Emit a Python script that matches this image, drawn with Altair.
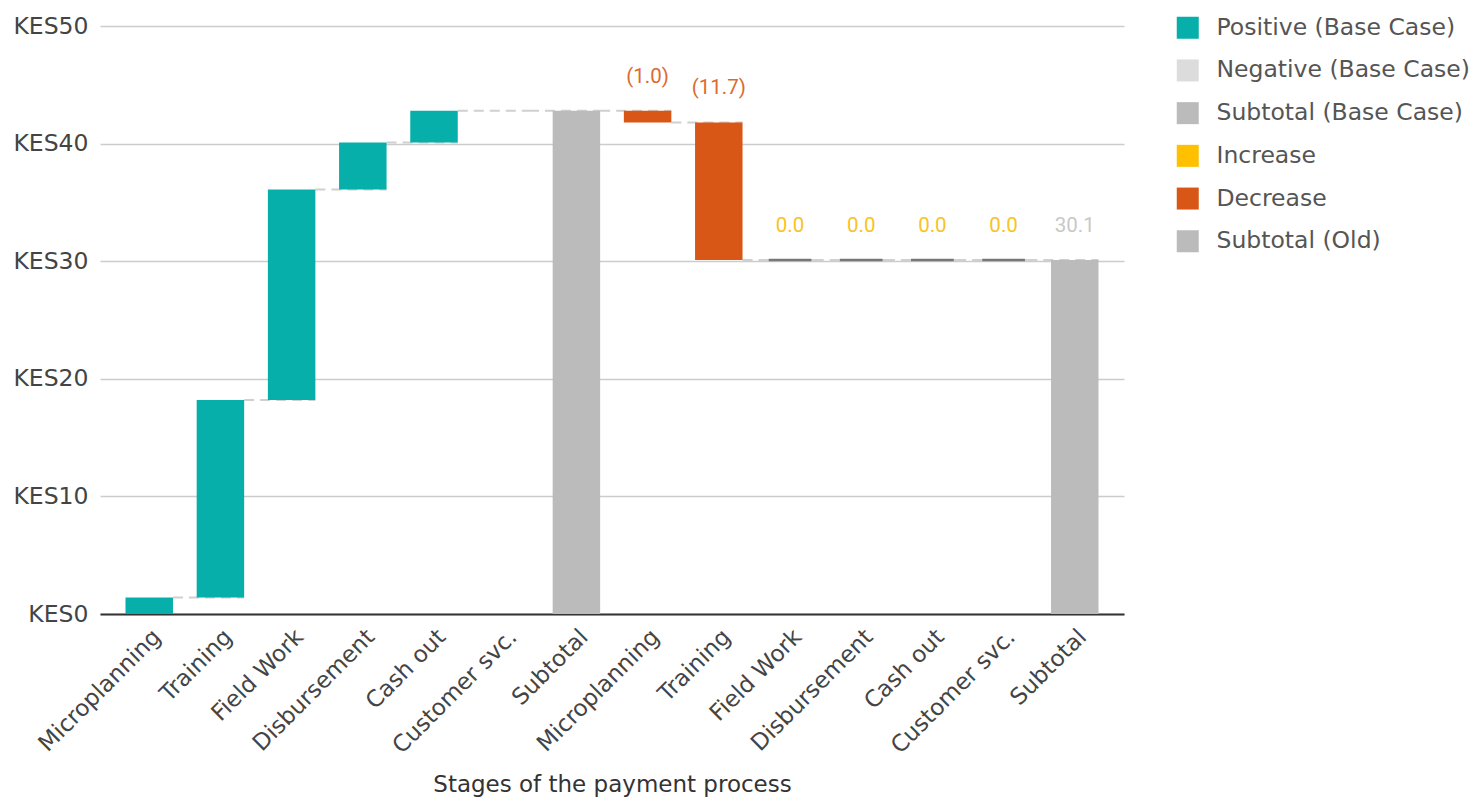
import altair as alt
import pandas as pd

# ---- data ----
categories = ["Microplanning", "Training", "Field Work", "Disbursement", "Cash out",
              "Customer svc.", "Subtotal", "Microplanning", "Training", "Field Work",
              "Disbursement", "Cash out", "Customer svc.", "Subtotal"]
changes = [1.4, 16.8, 17.9, 4.0, 2.7, 0.0, None, -1.0, -11.7, 0.0, 0.0, 0.0, 0.0, None]
series = ["Positive (Base Case)"] * 6 + ["Subtotal (Base Case)"] + ["Decrease"] * 2 + \
         ["Increase"] * 4 + ["Subtotal (Old)"]
labelled = [False] * 7 + [True] * 7

legend_order = ["Positive (Base Case)", "Negative (Base Case)", "Subtotal (Base Case)",
                "Increase", "Decrease", "Subtotal (Old)"]
legend_colors = ["#06AFA9", "#DCDCDC", "#BBBBBB", "#FFC000", "#D95716", "#BBBBBB"]
label_colors = {"Decrease": "#DC6A30", "Increase": "#F7C325", "Subtotal (Old)": "#C8C8C8"}

# ---- build the table ----
rows = []
running = 0.0
keys = [f"{i:02d}|{c}" for i, c in enumerate(categories)]
for i, (k, c, ch, s, lab) in enumerate(zip(keys, categories, changes, series, labelled)):
    if ch is None:
        start, end = 0.0, running
        txt = f"{end:.1f}"
    else:
        start, end = running, round(running + ch, 1)
        txt = f"({abs(ch):.1f})" if ch < 0 else f"{ch:.1f}"
    running = end
    rows.append(dict(key=k, cat=c, start=start, end=end, series=s,
                     top=max(start, end), text=txt if lab else "",
                     tcolor=label_colors.get(s, "#999999"),
                     next_key=keys[i + 1] if i + 1 < len(keys) else None,
                     zero=(ch == 0.0 and s == "Increase")))
df = pd.DataFrame(rows)
conn = df[df["next_key"].notna()]
zeros = df[df["zero"]]
texts = df[df["text"] != ""]

FONT = "DejaVu Sans"

xscale = alt.Scale(domain=keys, paddingInner=0.333, paddingOuter=0.358)
xaxis = alt.Axis(title="Stages of the payment process", labelAngle=-45,
                 labelAlign="right", labelBaseline="middle",
                 labelExpr="split(datum.label, '|')[1]", labelFontSize=23,
                 labelFont=FONT, labelColor="#444444", labelPadding=19, labelOffset=8,
                 ticks=False, domainColor="#333333", domainWidth=2,
                 titleFont=FONT, titleFontSize=23, titleFontWeight="normal",
                 titleColor="#333333", titlePadding=16, grid=False)
yscale = alt.Scale(domain=[0, 50], nice=False)
yaxis = alt.Axis(title=None, values=[0, 10, 20, 30, 40, 50],
                 labelExpr="'KES' + datum.value", labelFontSize=23.5, labelFont=FONT,
                 labelColor="#444444", labelPadding=12, ticks=False, domain=False,
                 gridColor="#CCCCCC", gridWidth=1.5)

connectors = alt.Chart(conn).mark_rule(color="#D0D0D0", strokeWidth=2,
                                       strokeDash=[10, 6]).encode(
    x=alt.X("key:N", bandPosition=1, scale=xscale, axis=xaxis),
    x2=alt.X2("next_key:N", bandPosition=1),
    y=alt.Y("end:Q", scale=yscale, axis=yaxis),
)

bars = alt.Chart(df).mark_bar().encode(
    x=alt.X("key:N", scale=xscale, axis=xaxis),
    y=alt.Y("start:Q", scale=yscale, axis=yaxis),
    y2="end:Q",
    color=alt.Color("series:N",
                    scale=alt.Scale(domain=legend_order, range=legend_colors),
                    legend=alt.Legend(title=None, orient="none", legendX=1076,
                                      legendY=-10, symbolType="square",
                                      symbolSize=484, symbolStrokeWidth=0,
                                      symbolOpacity=1, labelFont=FONT,
                                      labelFontSize=23.5, labelColor="#555555",
                                      labelOffset=17, rowPadding=17.7, padding=0,
                                      labelLimit=400)),
)

zero_lines = alt.Chart(zeros).mark_rule(color="#777777", strokeWidth=2.5).encode(
    x=alt.X("key:N", bandPosition=0.05, scale=xscale, axis=xaxis),
    x2=alt.X2("key:N", bandPosition=0.95),
    y=alt.Y("end:Q", scale=yscale, axis=yaxis),
)

labels = alt.Chart(texts).mark_text(font="Roboto", fontSize=20.5, dy=-28,
                                    baseline="alphabetic").encode(
    x=alt.X("key:N", bandPosition=0.5, scale=xscale, axis=xaxis),
    y=alt.Y("top:Q", scale=yscale, axis=yaxis),
    text="text:N",
    color=alt.Color("tcolor:N", scale=None),
)

chart = alt.layer(connectors, bars, zero_lines, labels).properties(
    width=1024, height=588,
    background="white",
    autosize=alt.AutoSizeParams(type="none"),
    padding={"left": 100, "top": 26, "right": 349, "bottom": 197},
).configure_view(stroke=None, strokeWidth=0)

chart.save("out.html", embed_options={"renderer": "svg", "actions": False})
